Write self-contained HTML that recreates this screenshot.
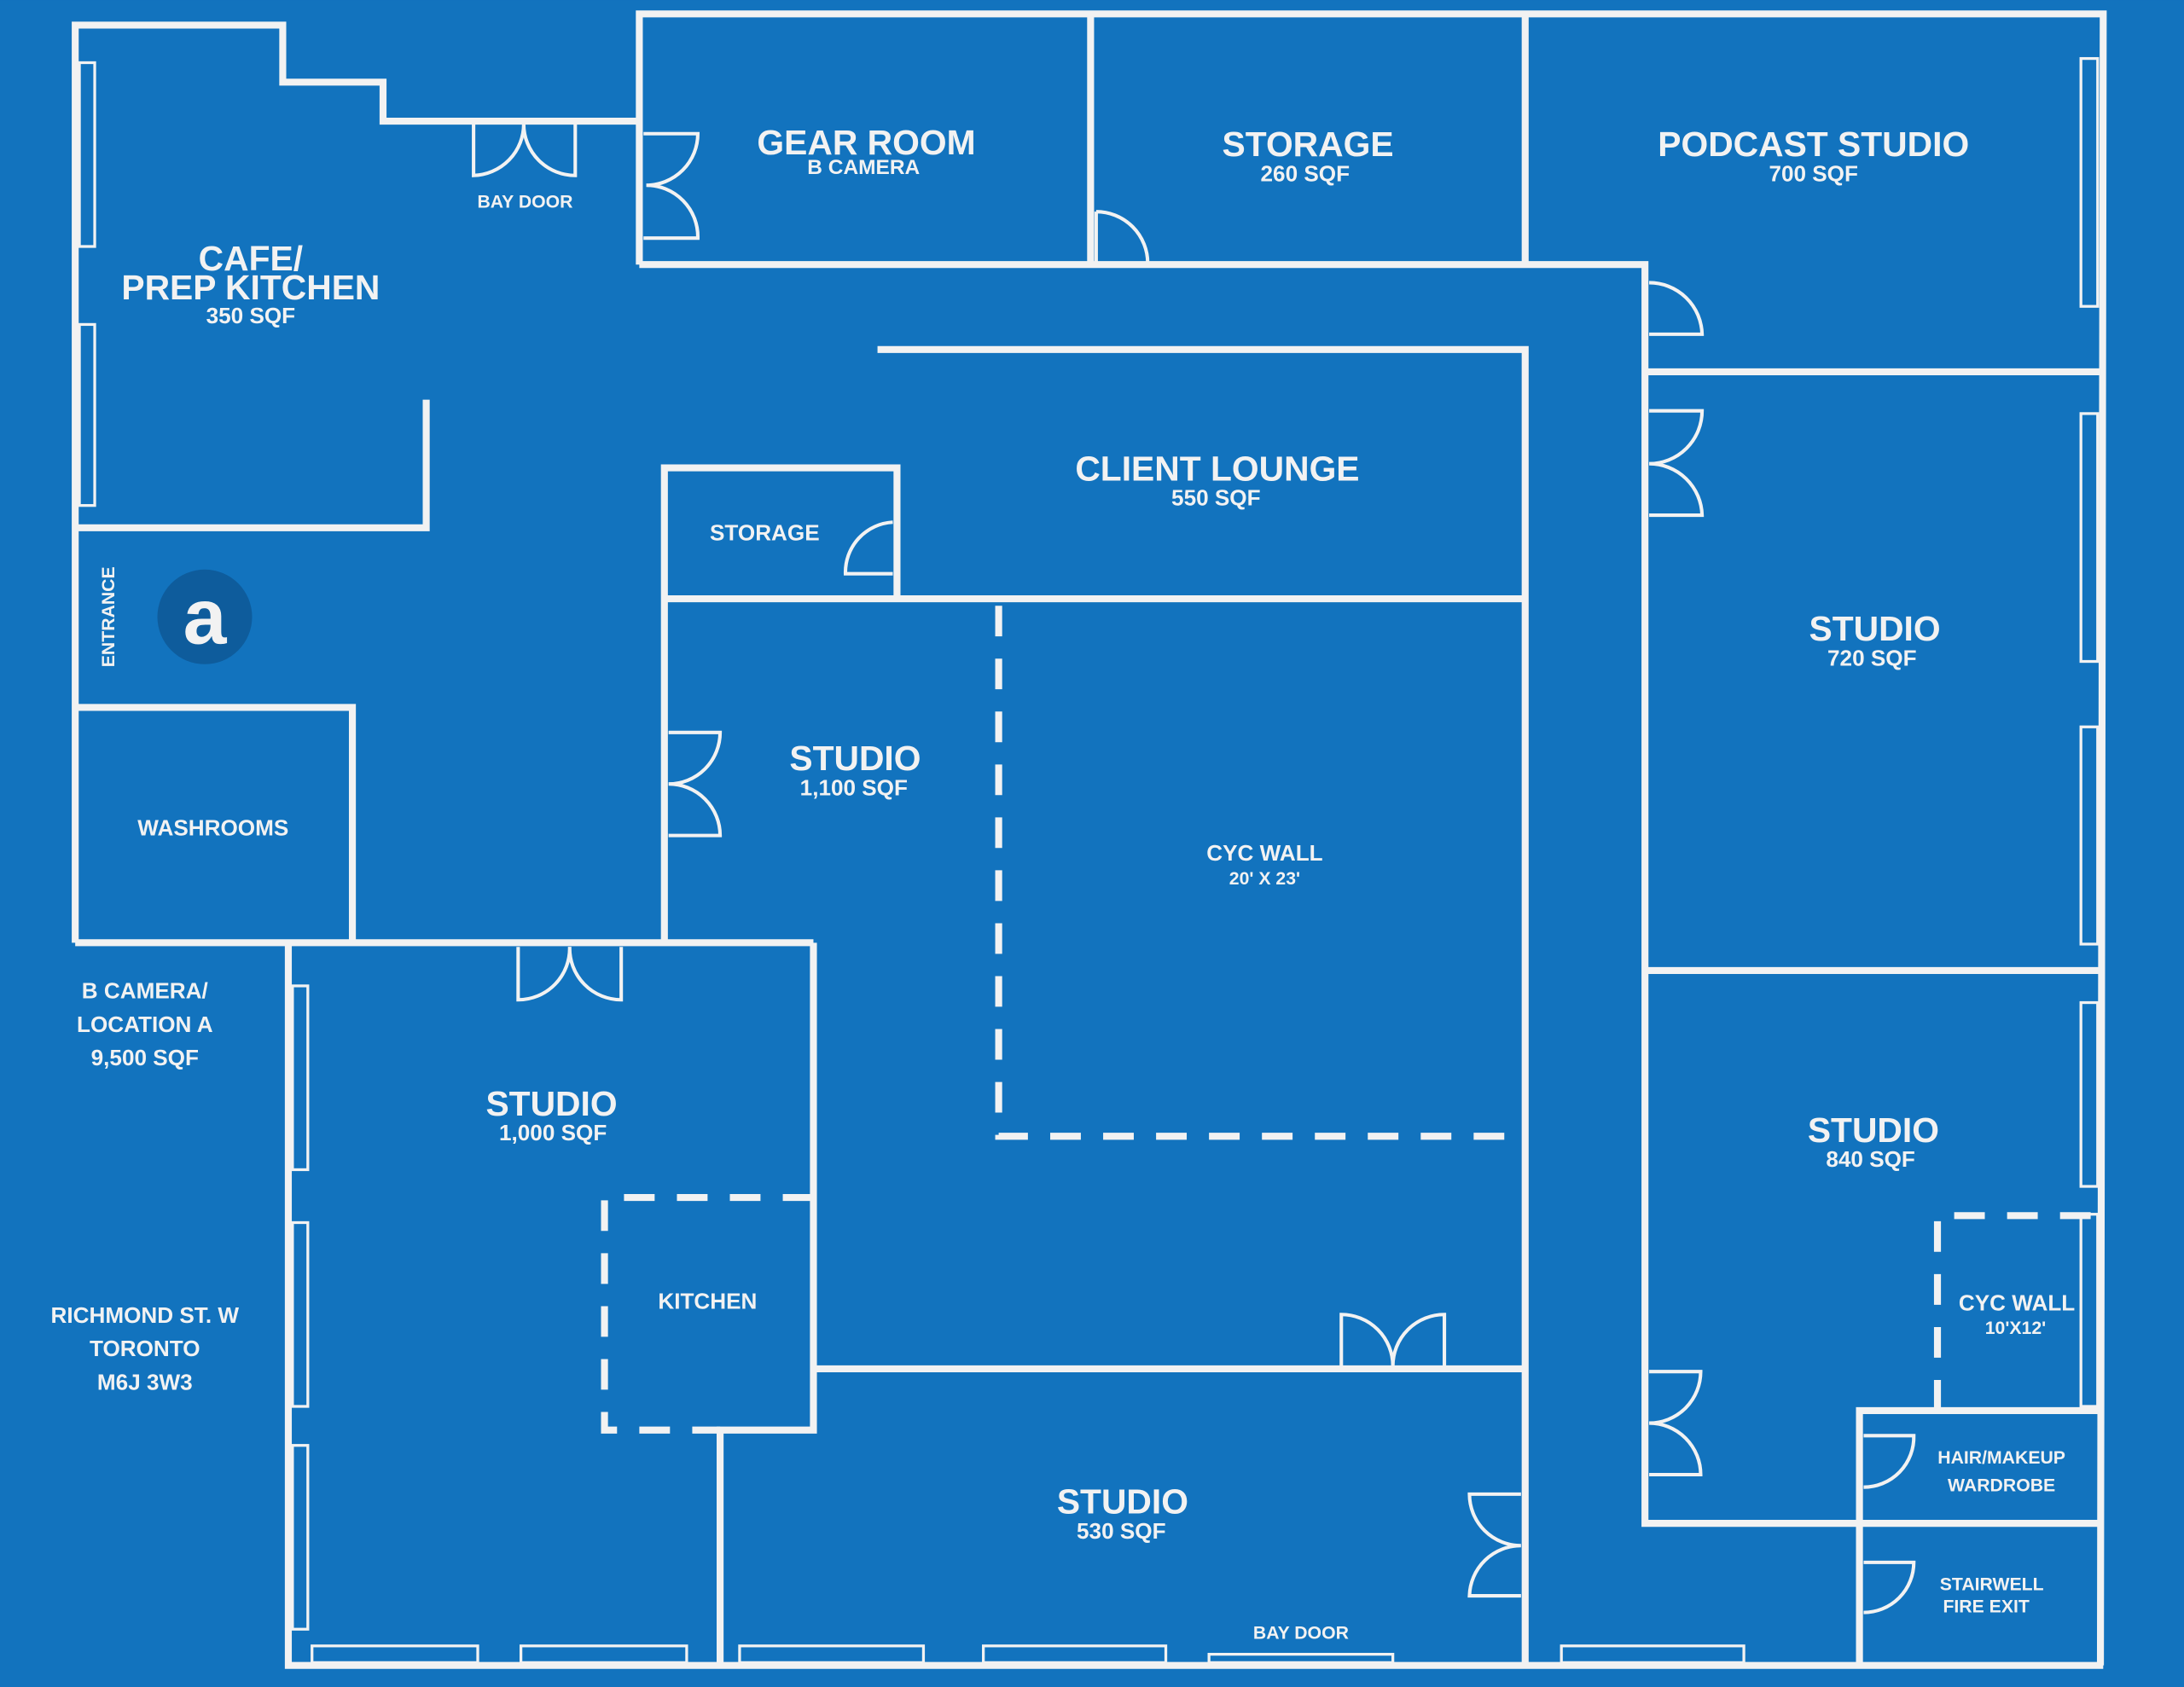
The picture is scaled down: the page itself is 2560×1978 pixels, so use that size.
<!DOCTYPE html>
<html><head><meta charset="utf-8"><style>
html,body{margin:0;padding:0;background:#1273BE;}
svg{display:block}
text{font-family:"Liberation Sans",sans-serif;font-weight:bold;fill:#F2F2F2;text-anchor:middle}
</style></head><body>
<svg width="2560" height="1978" viewBox="0 0 1568 1211.5" xmlns="http://www.w3.org/2000/svg">
<rect width="1568" height="1212" fill="#1273BE"/>
<g fill="none" stroke="#F2F2F2" stroke-width="5">
<!-- cafe -->
<polyline points="54,677 54,18 203,18 203,59 275,59 275,87 459,87"/>
<polyline points="54,379 306,379 306,287"/>
<!-- top block -->
<polyline points="459,190 459,10 1510,10 1508,1196"/>
<line x1="783" y1="10" x2="783" y2="190"/>
<line x1="1095" y1="10" x2="1095" y2="190"/>
<polyline points="459,190 1181,190 1181,1094 1335,1094"/>
<line x1="1181" y1="267" x2="1508" y2="267"/>
<line x1="1181" y1="697" x2="1508" y2="697"/>
<polyline points="630,251 1095,251 1095,1196"/>
<line x1="477" y1="430" x2="1095" y2="430"/>
<polyline points="477,677 477,336 644,336 644,430"/>
<!-- washrooms -->
<polyline points="54,508 253,508 253,677"/>
<line x1="54" y1="677" x2="584" y2="677"/>
<polyline points="207,677 207,1196 1510,1196"/>
<polyline points="584,677 584,1027 517,1027 517,1196"/>
<line x1="584" y1="983" x2="1095" y2="983"/>
<!-- hair/stair -->
<polyline points="1335,1196 1335,1013 1508,1013"/>
<line x1="1335" y1="1094" x2="1508" y2="1094"/>
</g>
<!-- dashed -->
<g fill="none" stroke="#F2F2F2" stroke-width="5" stroke-dasharray="22,16">
<polyline points="717,435 717,816 1095,816"/>
<polyline points="584,860 434,860 434,1027 517,1027"/>
<polyline points="1391,1013 1391,873 1508,873"/>
</g>
<!-- windows -->
<g fill="none" stroke="#F2F2F2" stroke-width="2">
<rect x="57" y="45" width="11" height="132"/><rect x="57" y="233" width="11" height="130"/>
<rect x="1494" y="42" width="12" height="178"/><rect x="1494" y="297" width="12" height="178"/>
<rect x="1494" y="522" width="12" height="156"/><rect x="1494" y="720" width="12" height="132"/>
<rect x="1494" y="872" width="12" height="138"/>
<rect x="210" y="708" width="11" height="132"/><rect x="210" y="878" width="11" height="132"/><rect x="210" y="1038" width="11" height="132"/>
<rect x="224" y="1182" width="119" height="12"/><rect x="374" y="1182" width="119" height="12"/>
<rect x="531" y="1182" width="132" height="12"/><rect x="706" y="1182" width="131" height="12"/>
<rect x="868" y="1188" width="132" height="6"/><rect x="1121" y="1182" width="131" height="12"/>
</g>
<!-- doors -->
<g fill="none" stroke="#F2F2F2" stroke-width="2.5">
<path d="M340,89 V126 A37,37 0 0 0 376,89 M413,89 V126 A37,37 0 0 1 376,89"/>
<path d="M462,96 H501 A37,37 0 0 1 464,133 M462,171 H501 A37,37 0 0 0 464,133"/>
<path d="M787,152 A37,37 0 0 1 824,189 M787,152 V189"/>
<path d="M1184,203 A38,38 0 0 1 1222,240 H1184"/>
<path d="M1184,295 H1222 A38,38 0 0 1 1184,333 M1184,370 H1222 A38,38 0 0 0 1184,333"/>
<path d="M641,375 A36,36 0 0 0 607,412 H641"/>
<path d="M480,526 H517 A37,37 0 0 1 480,563 M480,600 H517 A37,37 0 0 0 480,563"/>
<path d="M372,680 V718 A37,37 0 0 0 409,680 M446,680 V718 A37,37 0 0 1 409,680"/>
<path d="M963,981 V944 A37,37 0 0 1 1000,981 M1037,981 V944 A37,37 0 0 0 1000,981"/>
<path d="M1092,1073 H1055 A37,37 0 0 0 1092,1110 M1092,1146 H1055 A37,37 0 0 1 1092,1110"/>
<path d="M1184,985 H1221 A37,37 0 0 1 1184,1022 M1184,1059 H1221 A37,37 0 0 0 1184,1022"/>
<path d="M1338,1068 A36,36 0 0 0 1374,1031 H1338"/>
<path d="M1338,1158 A36,36 0 0 0 1374,1122 H1338"/>
</g>
<!-- logo -->
<circle cx="147" cy="443" r="34" fill="#0E5C9C"/>
<text x="147" y="462" style="font-size:56px">a</text>
<!-- labels -->
<text x="622" y="111" style="font-size:25px">GEAR ROOM</text>
<text x="620" y="125" style="font-size:15px">B CAMERA</text>
<text x="939" y="112" style="font-size:25px">STORAGE</text>
<text x="937" y="130" style="font-size:16px">260 SQF</text>
<text x="1302" y="112" style="font-size:25px">PODCAST STUDIO</text>
<text x="1302" y="130" style="font-size:16px">700 SQF</text>
<text x="180" y="194" style="font-size:25px">CAFE/</text>
<text x="180" y="215" style="font-size:25px">PREP KITCHEN</text>
<text x="180" y="232" style="font-size:16px">350 SQF</text>
<text x="377" y="149" style="font-size:13px">BAY DOOR</text>
<text x="874" y="345" style="font-size:25px">CLIENT LOUNGE</text>
<text x="873" y="363" style="font-size:16px">550 SQF</text>
<text x="549" y="388" style="font-size:16px">STORAGE</text>
<text x="1346" y="460" style="font-size:25px">STUDIO</text>
<text x="1344" y="478" style="font-size:16px">720 SQF</text>
<text x="614" y="553" style="font-size:25px">STUDIO</text>
<text x="613" y="571" style="font-size:16px">1,100 SQF</text>
<text x="908" y="618" style="font-size:16px">CYC WALL</text>
<text x="908" y="635" style="font-size:13px">20' X 23'</text>
<text x="153" y="600" style="font-size:16px">WASHROOMS</text>
<text x="82" y="443" transform="rotate(-90 82 443)" style="font-size:13px">ENTRANCE</text>
<text x="104" y="717" style="font-size:16px">B CAMERA/</text>
<text x="104" y="741" style="font-size:16px">LOCATION A</text>
<text x="104" y="765" style="font-size:16px">9,500 SQF</text>
<text x="104" y="950" style="font-size:16px">RICHMOND ST. W</text>
<text x="104" y="974" style="font-size:16px">TORONTO</text>
<text x="104" y="998" style="font-size:16px">M6J 3W3</text>
<text x="396" y="801" style="font-size:25px">STUDIO</text>
<text x="397" y="819" style="font-size:16px">1,000 SQF</text>
<text x="508" y="940" style="font-size:16px">KITCHEN</text>
<text x="1345" y="820" style="font-size:25px">STUDIO</text>
<text x="1343" y="838" style="font-size:16px">840 SQF</text>
<text x="1448" y="941" style="font-size:16px">CYC WALL</text>
<text x="1447" y="958" style="font-size:13px">10'X12'</text>
<text x="1437" y="1051" style="font-size:13px">HAIR/MAKEUP</text>
<text x="1437" y="1071" style="font-size:13px">WARDROBE</text>
<text x="1430" y="1142" style="font-size:13px">STAIRWELL</text>
<text x="1426" y="1158" style="font-size:13px">FIRE EXIT</text>
<text x="806" y="1087" style="font-size:25px">STUDIO</text>
<text x="805" y="1105" style="font-size:16px">530 SQF</text>
<text x="934" y="1177" style="font-size:13px">BAY DOOR</text>
</svg>
</body></html>
